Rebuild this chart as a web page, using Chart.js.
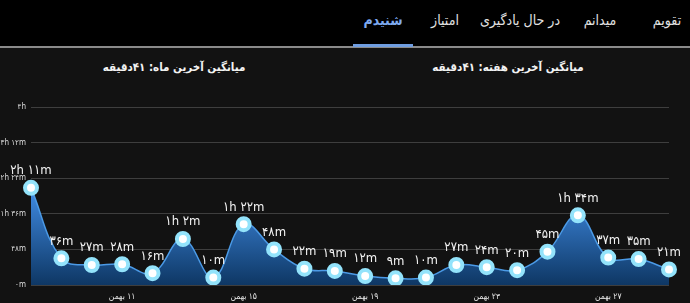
<!DOCTYPE html>
<html lang="fa">
<head>
<meta charset="utf-8">
<script src="https://cdn.jsdelivr.net/npm/chart.js@4.4.1/dist/chart.umd.min.js"></script>
<style>
  html, body { margin: 0; padding: 0; background: #121212; }
  body { width: 690px; height: 303px; position: relative; overflow: hidden; font-family: "DejaVu Sans", sans-serif; }
  #nav { position: absolute; left: 0; top: 0; width: 690px; height: 46px; background: #000; border-bottom: 2px solid #8a8a8a; }
  .tab { position: absolute; top: 12px; transform: translateX(-50%); color: #e2e2e2; font-size: 14px; font-family: "DejaVu Sans Condensed", "DejaVu Sans", sans-serif; white-space: nowrap; direction: rtl; }
  .tab.active { color: #7eaaf0; font-weight: bold; }
  #underline { position: absolute; left: 353px; width: 60px; top: 44px; height: 3px; background: #6f9de0; }
  .title { position: absolute; top: 60px; transform: translateX(-50%); color: #f2f2f2; font-size: 11.5px; font-weight: bold; font-family: "DejaVu Sans Condensed", "DejaVu Sans", sans-serif; white-space: nowrap; direction: rtl; }
  #wrap { position: absolute; left: 0; top: 0; width: 690px; height: 303px; }
</style>
</head>
<body>
<div id="nav">
  <div class="tab" style="left:667px">تقویم</div>
  <div class="tab" style="left:600px">میدانم</div>
  <div class="tab" style="left:520px">در حال یادگیری</div>
  <div class="tab" style="left:445px">امتیاز</div>
  <div class="tab active" style="left:383px">شنیدم</div>
  <div id="underline"></div>
</div>
<div class="title" style="left:174px">میانگین آخرین ماه: ۴۱دقیقه</div>
<div class="title" style="left:508px">میانگین آخرین هفته: ۴۱دقیقه</div>
<div id="wrap"><canvas id="grafico" width="690" height="303"></canvas></div>
<script>
const dias = ["۸ بهمن", "۹ بهمن", "۱۰ بهمن", "۱۱ بهمن", "۱۲ بهمن", "۱۳ بهمن", "۱۴ بهمن", "۱۵ بهمن",
  "۱۶ بهمن", "۱۷ بهمن", "۱۸ بهمن", "۱۹ بهمن", "۲۰ بهمن", "۲۱ بهمن", "۲۲ بهمن", "۲۳ بهمن",
  "۲۴ بهمن", "۲۵ بهمن", "۲۶ بهمن", "۲۷ بهمن", "۲۸ بهمن", "۲۹ بهمن"];
const minutos = [131, 36, 27, 28, 16, 62, 10, 82, 48, 22, 19, 12, 9, 10, 27, 24, 20, 45, 94, 37, 35, 21];
const ticksY = [0, 48, 96, 144, 192, 240];

function fa(n) {
  return String(n).replace(/\d/g, (d) => "۰۱۲۳۴۵۶۷۸۹"[d]);
}

function formatar(v) {
  let h = Math.floor(v / 60);
  let m = v % 60;
  if (h === 0) return fa(m) + "m";
  if (m === 0) return fa(h) + "h";
  return fa(h) + "h " + fa(m) + "m";
}

const rotulos = {
  id: "rotulos",
  afterDatasetsDraw(chart) {
    const ctx = chart.ctx;
    const meta = chart.getDatasetMeta(0);
    ctx.save();
    ctx.font = "13px 'DejaVu Sans Condensed', 'DejaVu Sans'";
    ctx.fillStyle = "#f4f4f4";
    ctx.textAlign = "center";
    ctx.textBaseline = "middle";
    meta.data.forEach((p, i) => {
      ctx.fillText(formatar(minutos[i]), p.x, p.y - 17);
    });
    ctx.restore();
  },
};

const ctx = document.getElementById("grafico").getContext("2d");

new Chart(ctx, {
  type: "line",
  data: {
    labels: dias,
    datasets: [
      {
        data: minutos,
        borderColor: "#4b9ae6",
        borderWidth: 1.5,
        tension: 0.4,
        fill: true,
        backgroundColor: (c) => {
          const area = c.chart.chartArea;
          if (!area) return "#1d5fa8";
          const g = c.chart.ctx.createLinearGradient(0, area.top + 70, 0, area.bottom);
          g.addColorStop(0, "#4696f4");
          g.addColorStop(1, "#0e3764");
          return g;
        },
        pointRadius: 6,
        pointHoverRadius: 6,
        pointBorderWidth: 4,
        pointBorderColor: "#93e3fb",
        pointBackgroundColor: "#ffffff",
      },
    ],
  },
  options: {
    responsive: false,
    animation: false,
    devicePixelRatio: 1,
    layout: { padding: { top: 107, right: 21, bottom: 0, left: 0 } },
    plugins: { legend: { display: false }, tooltip: { enabled: false } },
    scales: {
      x: {
        grid: { display: false },
        border: { display: false },
        afterFit: (s) => { s.height = 18; },
        ticks: {
          autoSkip: false,
          maxRotation: 0,
          padding: -1,
          color: "#e6e6e6",
          font: { size: 8.5, family: "DejaVu Sans Condensed" },
          callback: (v, i) => (i % 4 === 3 ? "\u200F" + dias[i] : ""),
        },
      },
      y: {
        min: 0,
        max: 240,
        afterFit: (s) => { s.width = 31; },
        afterBuildTicks: (s) => { s.ticks = ticksY.map((v) => ({ value: v })); },
        grid: { color: "#3e3e3e", lineWidth: 1, drawTicks: false },
        border: { display: false },
        ticks: {
          padding: 5,
          color: "#dddddd",
          font: { size: 8, family: "DejaVu Sans Condensed" },
          callback: (v) => formatar(v),
        },
      },
    },
  },
  plugins: [rotulos],
});
</script>
</body>
</html>
